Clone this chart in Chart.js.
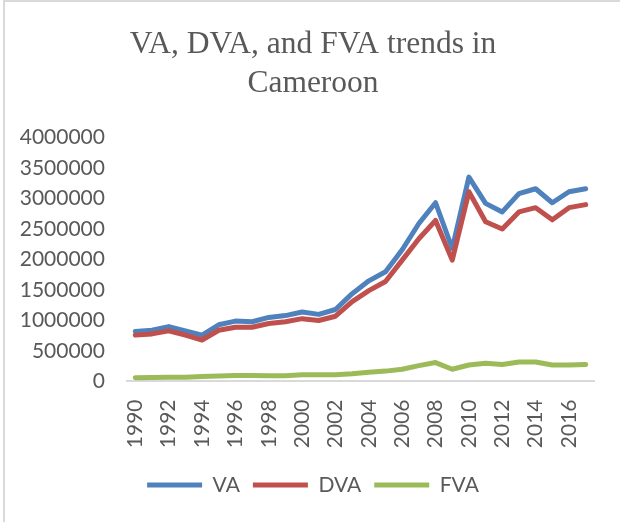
<!DOCTYPE html>
<html>
<head>
<meta charset="utf-8">
<script src="https://cdn.jsdelivr.net/npm/chart.js@4"></script>
<style>
    html, body { margin: 0; padding: 0; background: #ffffff; }
    #marco {
        position: absolute; left: 3px; top: 0; width: 617px; height: 522px;
        border-top: 2px solid #d9d9d9; border-left: 2px solid #d9d9d9;
        box-sizing: border-box; pointer-events: none;
    }
    #caja { position: absolute; left: 0; top: 0; width: 620px; height: 522px; }
</style>
</head>
<body>
<div id="caja"><canvas id="grafica" width="620" height="522"></canvas></div>
<div id="marco"></div>
<script type="text/javascript">

    // Años
    var anios = ["1990", "1991", "1992", "1993", "1994", "1995", "1996", "1997", "1998", "1999",
                 "2000", "2001", "2002", "2003", "2004", "2005", "2006", "2007", "2008", "2009",
                 "2010", "2011", "2012", "2013", "2014", "2015", "2016", "2017"]

    // Valor agregado total
    var va = [820000, 840000, 900000, 830000, 760000, 930000, 990000, 980000, 1050000, 1080000,
              1140000, 1100000, 1180000, 1440000, 1650000, 1800000, 2160000, 2590000, 2930000, 2180000,
              3350000, 2920000, 2780000, 3080000, 3160000, 2930000, 3110000, 3160000]

    // Valor agregado doméstico
    var dva = [760000, 780000, 830000, 760000, 680000, 840000, 890000, 890000, 950000, 980000,
               1030000, 1000000, 1070000, 1310000, 1490000, 1640000, 1990000, 2340000, 2640000, 1990000,
               3110000, 2620000, 2500000, 2780000, 2850000, 2650000, 2850000, 2900000]

    // Valor agregado extranjero
    var fva = [60000, 65000, 68000, 70000, 80000, 90000, 100000, 100000, 95000, 95000,
               110000, 110000, 110000, 125000, 150000, 170000, 200000, 260000, 310000, 200000,
               270000, 300000, 280000, 320000, 320000, 270000, 270000, 280000]

    var marcasY = [0, 500000, 1000000, 1500000, 2000000, 2500000, 3000000, 3500000, 4000000]

    var gris = "#595959"
    var fuenteEjes = "Lato, 'Open Sans', sans-serif"

    function serie(nombre, valores, color, orden) {
        return {
            label: nombre,
            data: valores,
            borderColor: color,
            backgroundColor: color,
            borderWidth: 5,
            borderCapStyle: "round",
            borderJoinStyle: "round",
            pointRadius: 0,
            pointHoverRadius: 0,
            tension: 0,
            fill: false,
            // DVA va encima de VA, como en Excel
            order: orden
        }
    }

    var datos = {
        labels: anios,
        datasets: [
            serie("VA", va, "#4f81bd", 3),
            serie("DVA", dva, "#c0504d", 2),
            serie("FVA", fva, "#9bbb59", 1)
        ]
    }

    var canvas = document.getElementById('grafica')
    var context = canvas.getContext('2d')

    window.linea = new Chart(context, {
        type: "line",
        data: datos,
        options: {
            responsive: false,
            animation: false,
            layout: {
                padding: { left: 32, right: 26, top: 0, bottom: 16.5 }
            },
            plugins: {
                title: {
                    display: true,
                    text: ["VA, DVA, and FVA trends in", "Cameroon"],
                    color: gris,
                    font: { family: "'Liberation Serif', 'Times New Roman', serif", size: 31.5, weight: "normal", lineHeight: 39 / 31.5 },
                    padding: { top: 25.5, bottom: 34 }
                },
                legend: {
                    position: "bottom",
                    labels: {
                        usePointStyle: true,
                        pointStyle: "line",
                        pointStyleWidth: 55,
                        color: gris,
                        padding: 13,
                        font: { family: fuenteEjes, size: 21 },
                        sort: function (a, b) { return a.datasetIndex - b.datasetIndex }
                    }
                },
                tooltip: { enabled: false }
            },
            scales: {
                x: {
                    offset: true,
                    grid: { display: false, drawTicks: true, tickLength: 18 },
                    border: { display: true, color: "#d9d9d9", width: 2 },
                    // espacio extra entre las etiquetas y la leyenda
                    afterFit: function (eje) { eje.height += 13.3 },
                    ticks: {
                        autoSkip: false,
                        maxRotation: 90,
                        minRotation: 90,
                        padding: 0,
                        color: gris,
                        font: { family: fuenteEjes, size: 21 },
                        callback: function (valor, indice) {
                            return indice % 2 === 0 ? this.getLabelForValue(valor) : ""
                        }
                    }
                },
                y: {
                    min: 0,
                    max: 4000000,
                    grid: { display: false, drawTicks: false },
                    border: { display: false },
                    afterBuildTicks: function (eje) {
                        eje.ticks = marcasY.map(function (v) { return { value: v } })
                    },
                    afterFit: function (eje) { eje.width = 95 },
                    ticks: {
                        // mirror evita que se recorten las etiquetas al ancho del eje
                        mirror: true,
                        crossAlign: "far",
                        padding: -107.3,
                        color: gris,
                        font: { family: fuenteEjes, size: 21 },
                        callback: function (valor) { return String(valor) }
                    }
                }
            }
        }
    })

</script>
</body>
</html>
